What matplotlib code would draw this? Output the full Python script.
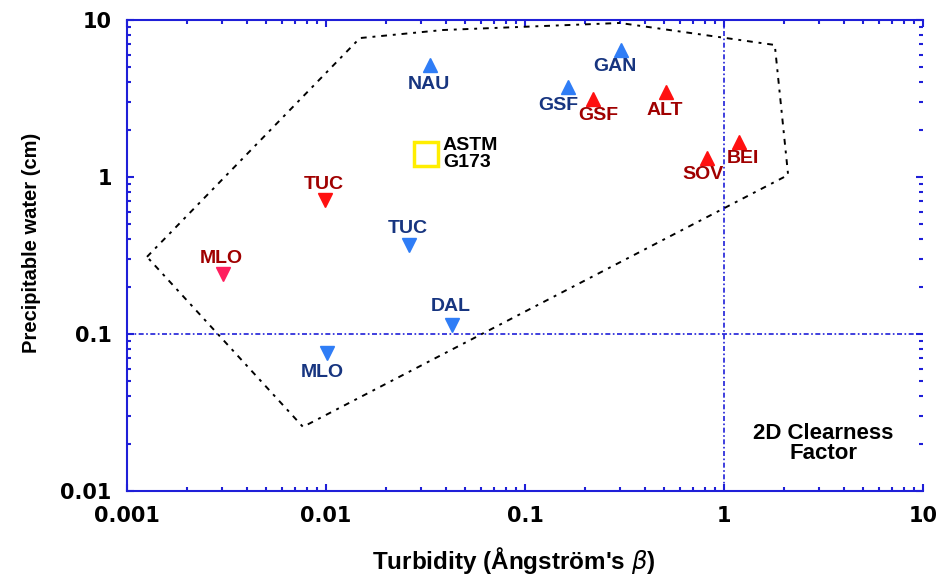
import matplotlib
matplotlib.use("Agg")
import matplotlib.pyplot as plt

# station data: turbidity (beta) vs precipitable water (cm)
stations = ["NAU", "GSF", "GAN", "GSF", "ALT", "BEI", "SOV",
            "TUC", "MLO", "TUC", "DAL", "MLO"]
beta = [0.0334, 0.164, 0.303, 0.220, 0.512, 1.19, 0.823,
        0.0099, 0.00303, 0.0261, 0.0430, 0.0101]
water = [5.17, 3.74, 6.44, 3.14, 3.48, 1.67, 1.32,
         0.714, 0.241, 0.369, 0.114, 0.0757]
group = ["blue", "blue", "blue", "red", "red", "red", "red",
         "red", "pink", "blue", "blue", "blue"]
marker = ["^", "^", "^", "^", "^", "^", "^",
          "v", "v", "v", "v", "v"]

# ASTM G173 reference point
astm_beta = 0.0319
astm_water = 1.40

# envelope of the 2D clearness factor
env_beta = [0.00126, 0.0148, 0.0387, 0.300, 1.80, 2.10, 0.00766, 0.00126]
env_water = [0.31, 7.67, 8.63, 9.57, 6.93, 1.03, 0.0256, 0.31]

# label offsets (points) relative to each marker
label_off = [(-1, -14), (-7, -13), (-4, -12), (4, -12), (-1, -13), (3, -12), (-3, -12),
             (-1, 11), (-1, 11), (-1, 12), (-1, 13), (-3, -14)]

marker_col = {"blue": "#2f7df6", "red": "#ff1010", "pink": "#ff1f5e"}
text_col = {"blue": "#173580", "red": "#a00000", "pink": "#a00000"}
axis_blue = "#1f1fd8"

lab_font = ["Liberation Sans", "DejaVu Sans"]

fig = plt.figure(figsize=(9.36, 5.79), dpi=100)
ax = fig.add_axes([0.1357, 0.152, 0.8504, 0.8135])
ax.set_xscale("log")
ax.set_yscale("log")
ax.set_xlim(0.001, 10)
ax.set_ylim(0.01, 10)

ax.axvline(1, color=axis_blue, lw=1.2, ls=(0, (3, 1.5, 1, 1.5)), zorder=1)
ax.axhline(0.1, color=axis_blue, lw=1.2, ls=(0, (3, 1.5, 1, 1.5)), zorder=1)

ax.plot(env_beta, env_water, color="black", lw=1.4,
        ls=(0, (3, 3, 1.5, 3)), zorder=2)

for name, bx, wy, g, m, off in zip(stations, beta, water, group, marker, label_off):
    ax.plot(bx, wy, marker=m, ms=10, color=marker_col[g], mec=marker_col[g],
            ls="none", zorder=3)
    ax.annotate(name, (bx, wy), xytext=off, textcoords="offset points",
                ha="center", va="center", fontsize=14, fontweight="bold",
                family=lab_font, color=text_col[g], zorder=4)

ax.plot(astm_beta, astm_water, marker="s", ms=17, mfc="none", mec="#ffee00",
        mew=2.5, ls="none", zorder=3)
ax.annotate("ASTM\nG173", (astm_beta, astm_water), xytext=(12, 0),
            textcoords="offset points", ha="left", va="center", fontsize=14,
            fontweight="bold", family=lab_font, linespacing=1.0, color="black")

ax.text(0.875, 0.1, "2D Clearness\nFactor", transform=ax.transAxes,
        ha="center", va="center", fontsize=16, fontweight="bold",
        family=lab_font, linespacing=0.95)

for side in ["left", "bottom", "top"]:
    ax.spines[side].set_color(axis_blue)
    ax.spines[side].set_linewidth(1.5)
ax.spines["right"].set_visible(False)

ax.tick_params(which="both", direction="in", colors=axis_blue,
               top=True, right=True, width=1.5, labelcolor="black", pad=11)
ax.tick_params(which="major", length=5)
ax.tick_params(which="minor", length=3)

ax.set_xticks([0.001, 0.01, 0.1, 1, 10])
ax.set_xticklabels(["0.001", "0.01", "0.1", "1", "10"])
ax.set_yticks([0.01, 0.1, 1, 10])
ax.set_yticklabels(["0.01", "0.1", "1", "10"])
for lbl in ax.get_xticklabels() + ax.get_yticklabels():
    lbl.set_fontsize(15)
    lbl.set_fontweight("bold")
    lbl.set_family("DejaVu Sans")

ax.set_xlabel("Turbidity (Ångström's $\\beta$)", fontsize=17.5, fontweight="bold",
              family=lab_font)
ax.set_ylabel("Precipitable water (cm)", fontsize=14.5, fontweight="bold",
              family=lab_font)
ax.xaxis.set_label_coords(0.486, -0.115)
ax.yaxis.set_label_coords(-0.108, 0.526)

fig.savefig("out.png", dpi=100)
